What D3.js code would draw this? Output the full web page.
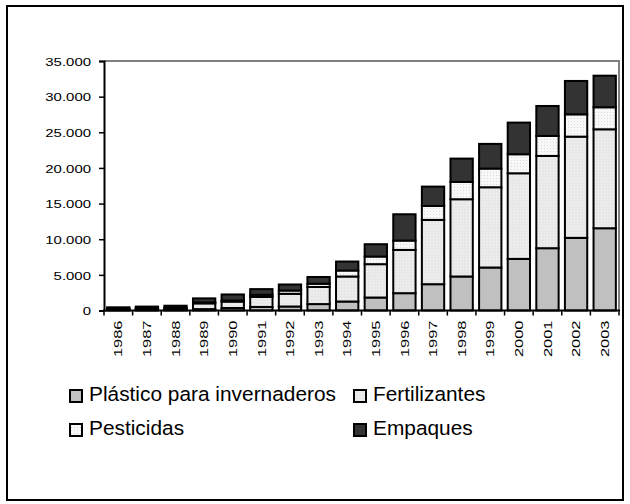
<!DOCTYPE html>
<html>
<head>
<meta charset="utf-8">
<script src="https://cdn.jsdelivr.net/npm/d3@7"></script>
<style>
  body { margin: 0; background: #fff; }
  svg { display: block; font-family: Arial, "Liberation Sans", sans-serif; }
</style>
</head>
<body>
<svg id="chart" width="630" height="504"></svg>
<script>
const years = ["1986","1987","1988","1989","1990","1991","1992","1993","1994","1995","1996","1997","1998","1999","2000","2001","2002","2003"];
const plastico      = [50, 50, 60, 200, 350, 500, 560, 900, 1260, 1820, 2430, 3690, 4770, 6030, 7240, 8740, 10190, 11540];
const fertilizantes = [150, 200, 250, 800, 900, 1400, 1780, 2400, 3510, 4680, 6070, 9020, 10840, 11260, 12010, 12940, 14200, 13880];
const pesticidas    = [50, 50, 60, 150, 150, 300, 460, 450, 840, 1070, 1310, 1960, 2430, 2620, 2670, 2810, 3130, 3090];
const empaques      = [200, 250, 300, 550, 850, 800, 850, 950, 1260, 1730, 3690, 2710, 3270, 3460, 4440, 4200, 4680, 4430];
const seriesNames = ["Plástico para invernaderos", "Fertilizantes", "Pesticidas", "Empaques"];
const yTicks = [0, 5000, 10000, 15000, 20000, 25000, 30000, 35000];

(function () {
const svg = d3.select("#chart");
const defs = svg.append("defs");
const FONT = "Arial, 'Liberation Sans', sans-serif";

const pf = defs.append("pattern").attr("id","pFert").attr("patternUnits","userSpaceOnUse").attr("width",3).attr("height",3);
pf.append("rect").attr("width",3).attr("height",3).attr("fill","#e8e8e8");
pf.append("rect").attr("x",1).attr("y",1).attr("width",1).attr("height",1).attr("fill","#f6f6f6");
const pp = defs.append("pattern").attr("id","pPest").attr("patternUnits","userSpaceOnUse").attr("width",3).attr("height",3);
pp.append("rect").attr("width",3).attr("height",3).attr("fill","#f8f8f8");
pp.append("rect").attr("x",1).attr("y",1).attr("width",1).attr("height",1).attr("fill","#dadada");

const fills = ["#c0c0c0", "url(#pFert)", "url(#pPest)", "#333333"];

svg.append("rect").attr("x",7).attr("y",6).attr("width",616).attr("height",494)
  .attr("fill","none").attr("stroke","#000").attr("stroke-width",2);

const pL = 104, pR = 619, pT = 61, pB = 310.5;
const x = d3.scaleBand().domain(years).range([pL, pR]).paddingInner(0.22).paddingOuter(0.11);
const y = d3.scaleLinear().domain([0, 35000]).range([pB, pT]);

const table = years.map((yr, i) => ({year: yr, p0: plastico[i], p1: fertilizantes[i], p2: pesticidas[i], p3: empaques[i]}));
const stack = d3.stack().keys(["p0","p1","p2","p3"])(table);

svg.append("path")
  .attr("d", `M${pL},${pT}H${pR}V${pB}`)
  .attr("fill","none").attr("stroke","#808080").attr("stroke-width",2);

svg.append("g").selectAll("g").data(stack).join("g")
  .attr("fill", (d, i) => fills[i])
  .selectAll("rect").data(d => d).join("rect")
  .attr("x", d => x(d.data.year))
  .attr("width", x.bandwidth())
  .attr("y", d => y(d[1]))
  .attr("height", d => y(d[0]) - y(d[1]))
  .attr("stroke","#000").attr("stroke-width",2);

const loc = d3.formatLocale({decimal: ",", thousands: ".", grouping: [3], currency: ["", ""]});
const fmt = loc.format(",.0f");
const yAxis = d3.axisLeft(y).tickValues(yTicks).tickFormat(fmt).tickSize(5).tickPadding(6);
const gy = svg.append("g").attr("transform", `translate(${pL},0)`).call(yAxis);
gy.attr("font-family", FONT).attr("font-size", 11.5);
gy.select(".domain").attr("stroke","#000").attr("stroke-width",2);
gy.selectAll(".tick line").attr("stroke","#000").attr("stroke-width",1.5);
gy.selectAll(".tick text").attr("fill","#000")
  .attr("x", 0).attr("dy","0.36em")
  .attr("transform","translate(-13,0) scale(1.3,1)");

const xAxis = d3.axisBottom(x).tickSize(0).tickFormat(d => d);
const gx = svg.append("g").attr("transform", `translate(0,${pB})`).call(xAxis);
gx.attr("font-family", FONT).attr("font-size", 11.5);
gx.select(".domain").remove();
svg.append("line").attr("x1",pL-1).attr("x2",pR+1).attr("y1",pB).attr("y2",pB)
  .attr("stroke","#000").attr("stroke-width",2);
const bounds = d3.range(years.length + 1).map(i => pL + i * (pR - pL) / years.length);
svg.append("g").selectAll("line").data(bounds).join("line")
  .attr("x1", d => d).attr("x2", d => d).attr("y1", pB).attr("y2", pB + 5)
  .attr("stroke","#000").attr("stroke-width",1.5);
gx.selectAll(".tick text")
  .attr("fill","#000")
  .attr("text-anchor","end")
  .attr("x", 0).attr("y", 0).attr("dy","0.36em")
  .attr("transform","translate(0,10) rotate(-90) scale(1.43,1)");

const legendPos = [[70, 401], [354, 401], [70, 435], [354, 435]];
const lg = svg.append("g").selectAll("g").data(seriesNames).join("g")
  .attr("transform", (d, i) => `translate(${legendPos[i][0]},${legendPos[i][1]})`);
lg.append("rect").attr("x",0).attr("y",-11).attr("width",12).attr("height",12)
  .attr("fill", (d, i) => fills[i]).attr("stroke","#000").attr("stroke-width",2);
lg.append("text").attr("x",0).attr("y",0).text(d => d)
  .attr("transform","translate(19,0) scale(1.07,1)")
  .attr("font-family", FONT).attr("font-size",19.5).attr("fill","#000");
})();
</script>
</body>
</html>
